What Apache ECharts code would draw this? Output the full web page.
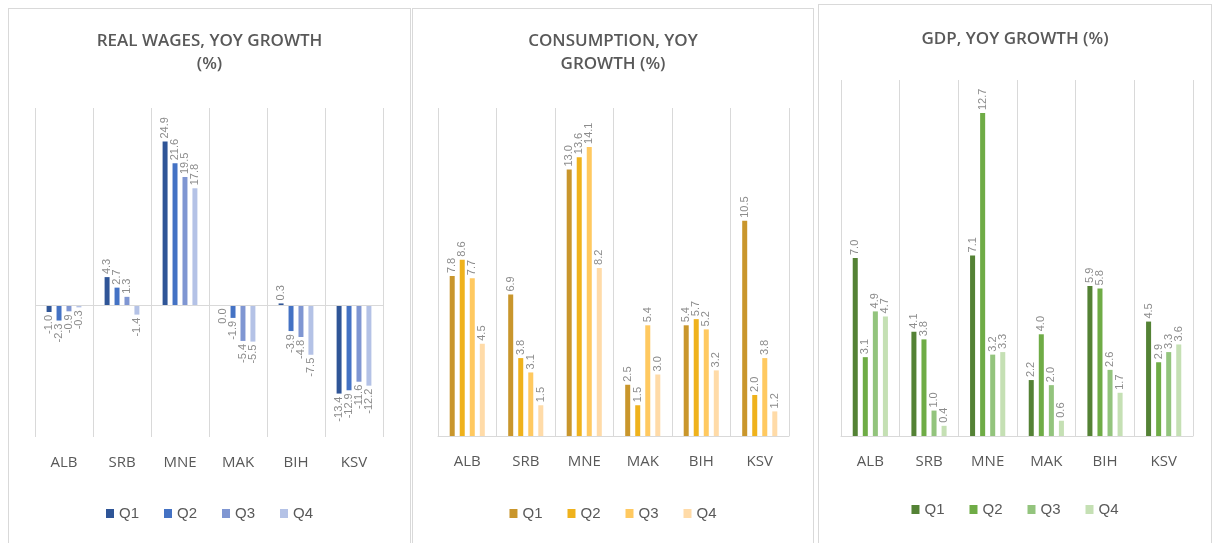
<!DOCTYPE html>
<html>
<head>
<meta charset="utf-8">
<script src="https://cdn.jsdelivr.net/npm/echarts@6/dist/echarts.min.js"></script>
<style>
html, body { margin: 0; padding: 0; background: #fff; }
body { position: relative; width: 1212px; height: 543px; overflow: hidden; }
.panel { position: absolute; box-sizing: border-box; border: 1px solid #d9d9d9; border-bottom: none; }
</style>
</head>
<body>
<div id="wages" class="panel" style="left:8px;top:8px;width:403px;height:535px"></div>
<div id="cons" class="panel" style="left:412px;top:8px;width:402px;height:535px"></div>
<div id="gdp" class="panel" style="left:818px;top:4px;width:394px;height:539px"></div>
<script>
const countries = ['ALB', 'SRB', 'MNE', 'MAK', 'BIH', 'KSV']
const quarters = ['Q1', 'Q2', 'Q3', 'Q4']

// real wages, yoy growth (%)
const wagesQ1 = [-1.0, 4.3, 24.9, 0.0, 0.3, -13.4]
const wagesQ2 = [-2.3, 2.7, 21.6, -1.9, -3.9, -12.9]
const wagesQ3 = [-0.9, 1.3, 19.5, -5.4, -4.8, -11.6]
const wagesQ4 = [-0.3, -1.4, 17.8, -5.5, -7.5, -12.2]

// consumption, yoy growth (%)
const consQ1 = [7.8, 6.9, 13.0, 2.5, 5.4, 10.5]
const consQ2 = [8.6, 3.8, 13.6, 1.5, 5.7, 2.0]
const consQ3 = [7.7, 3.1, 14.1, 5.4, 5.2, 3.8]
const consQ4 = [4.5, 1.5, 8.2, 3.0, 3.2, 1.2]

// gdp, yoy growth (%)
const gdpQ1 = [7.0, 4.1, 7.1, 2.2, 5.9, 4.5]
const gdpQ2 = [3.1, 3.8, 12.7, 4.0, 5.8, 2.9]
const gdpQ3 = [4.9, 1.0, 3.2, 2.0, 2.6, 3.3]
const gdpQ4 = [4.7, 0.4, 3.3, 0.6, 1.7, 3.6]

const blues = ['#2f5597', '#4472c4', '#7f96d2', '#b4c2e6']
const golds = ['#c9962c', '#efb21c', '#ffc960', '#ffdba8']
const greens = ['#548235', '#6fac46', '#93c47d', '#c5e0b4']

const textGrey = '#595959'
const lineGrey = '#d9d9d9'

// labels sit past the bar end, rotated, below the bar for negatives
const withLabels = (vals) => vals.map(v => {
  if (v <= 0) {
    return { value: v, label: { position: 'bottom', align: 'right' } }
  }
  return v
})

const renderChart = (dom, cfg) => {
  const myChart = echarts.init(dom)
  const series = cfg.values.map((vals, i) => {
    const s = {
      name: quarters[i],
      type: 'bar',
      data: withLabels(vals),
      barGap: '100%',
      barCategoryGap: '40%',
      itemStyle: { color: cfg.colors[i] },
      label: {
        show: true,
        position: 'top',
        rotate: 90,
        align: 'left',
        verticalAlign: 'middle',
        distance: 3,
        color: '#8c8c8c',
        fontSize: 11,
        fontFamily: 'Liberation Sans',
        formatter: p => p.value.toFixed(1),
      },
    }
    if (i === 0 && cfg.zeroLine) {
      s.markLine = {
        silent: true,
        symbol: 'none',
        label: { show: false },
        lineStyle: { color: lineGrey, type: 'solid', width: 1 },
        data: [{ yAxis: 0 }],
      }
    }
    return s
  })
  const options = {
    animation: false,
    title: {
      text: cfg.title,
      left: 'center',
      top: cfg.titleTop,
      textStyle: {
        color: textGrey,
        fontSize: 17,
        fontWeight: 600,
        fontFamily: 'Open Sans',
        lineHeight: 23,
      },
    },
    legend: {
      data: quarters,
      bottom: cfg.legendBottom,
      left: 'center',
      icon: 'rect',
      itemWidth: 8,
      itemHeight: 9,
      itemGap: 25,
      textStyle: { color: textGrey, fontSize: 15, fontFamily: 'Liberation Sans' },
    },
    grid: cfg.grid,
    xAxis: {
      type: 'category',
      data: countries,
      axisTick: { show: false },
      axisLine: { show: !cfg.zeroLine, lineStyle: { color: lineGrey } },
      splitLine: { show: true, lineStyle: { color: lineGrey } },
      axisLabel: { color: textGrey, fontSize: 15, margin: 18, fontFamily: 'Open Sans' },
    },
    yAxis: {
      type: 'value',
      min: cfg.min,
      max: cfg.max,
      show: false,
      splitLine: { show: false },
    },
    series,
  }
  myChart.setOption(options)
  return myChart
}

renderChart(document.getElementById('wages'), {
  title: 'REAL WAGES, YOY GROWTH\n(%)',
  titleTop: 16,
  legendBottom: 17,
  values: [wagesQ1, wagesQ2, wagesQ3, wagesQ4],
  colors: blues,
  min: -20,
  max: 30,
  zeroLine: true,
  grid: { left: 26, right: 27, top: 99, bottom: 106 },
})

renderChart(document.getElementById('cons'), {
  title: 'CONSUMPTION, YOY\nGROWTH (%)',
  titleTop: 16,
  legendBottom: 17,
  values: [consQ1, consQ2, consQ3, consQ4],
  colors: golds,
  min: 0,
  max: 16,
  zeroLine: false,
  grid: { left: 25, right: 24, top: 99, bottom: 107 },
})

renderChart(document.getElementById('gdp'), {
  title: 'GDP, YOY GROWTH (%)',
  titleTop: 18,
  legendBottom: 21,
  values: [gdpQ1, gdpQ2, gdpQ3, gdpQ4],
  colors: greens,
  min: 0,
  max: 14,
  zeroLine: false,
  grid: { left: 22, right: 18, top: 75, bottom: 107 },
})
</script>
</body>
</html>
